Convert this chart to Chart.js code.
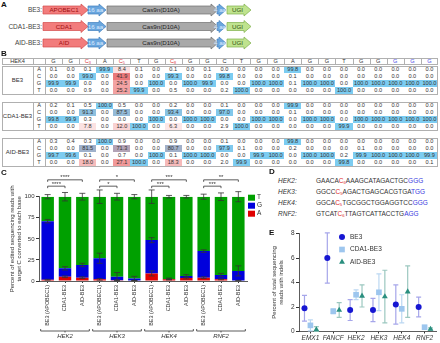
<!DOCTYPE html>
<html>
<head>
<meta charset="utf-8">
<script src="https://cdn.jsdelivr.net/npm/chart.js@4.4.1/dist/chart.umd.min.js"></script>
<style>
  body { margin: 0; width: 440px; height: 343px; position: relative; overflow: hidden; background: #fff;
         font-family: "Liberation Sans", Arial, sans-serif; color: #333; }
  .lbl { position: absolute; font-weight: bold; font-size: 8px; color: #111; }
  .c { position: absolute; font-size: 5.6px; text-align: center; white-space: nowrap; box-sizing: border-box; }
  .seq { position: absolute; font-size: 6.5px; white-space: nowrap; color: #333; }
  canvas { position: absolute; }
</style>
</head>
<body>
<svg id="constructs" width="440" height="56" style="position:absolute;left:0;top:0"></svg>
<div id="table"></div>
<div id="seqs"></div>
<canvas id="editChart" width="290" height="178" style="left:0;top:165px"></canvas>
<canvas id="indelChart" width="172" height="115" style="left:268px;top:228px"></canvas>
<div class="lbl" style="left:1px;top:0px">A</div>
<div class="lbl" style="left:1px;top:49px">B</div>
<div class="lbl" style="left:1px;top:168px">C</div>
<div class="lbl" style="left:269px;top:167px">D</div>
<div class="lbl" style="left:269px;top:228px">E</div>
<script>
// ---- panel A: constructs
const CONSTRUCTS = ['BE3:', 'CDA1-BE3:', 'AID-BE3:'];
const DEAMINASES = ['APOBEC1', 'CDA1', 'AID'];

// ---- panel B: HEK4 base calls (%)
const HEK4_BASES = ['G','G','C','A','C','T','G','C','G','G','C','T','G','G','A','G','G','T','G','G','G','G','G'];
const HEK4_SUBS = {2: '3', 4: '5', 7: '8'};
const ROW_BASES = ['A', 'C', 'G', 'T'];
const EDITORS = ['BE3', 'CDA1-BE3', 'AID-BE3'];

const BE3_A = [0.1,0.0,0.1,99.9,8.4,0.1,0.0,0.1,0.0,0.1,0.0,0.0,0.0,0.0,99.8,0.0,0.0,0.0,0.0,0.0,0.0,0.0,0.0];
const BE3_C = [0.0,0.0,99.0,0.0,41.9,0.0,0.0,99.3,0.0,0.0,99.8,0.0,0.0,0.0,0.1,0.0,0.0,0.0,0.0,0.0,0.0,0.0,0.0];
const BE3_G = [99.9,99.9,0.0,0.0,24.5,0.0,100.0,0.0,100.0,99.9,0.0,0.0,100.0,100.0,0.1,100.0,100.0,0.0,100.0,100.0,100.0,100.0,100.0];
const BE3_T = [0.0,0.0,0.9,0.0,25.2,99.9,0.0,0.5,0.0,0.0,0.2,100.0,0.0,0.0,0.0,0.0,0.0,100.0,0.0,0.0,0.0,0.0,0.0];

const CDA1_A = [0.2,0.1,0.5,100.0,0.5,0.0,0.0,0.2,0.0,0.0,0.1,0.0,0.0,0.0,99.9,0.0,0.0,0.0,0.0,0.0,0.0,0.0,0.0];
const CDA1_C = [0.0,0.0,91.3,0.0,87.5,0.0,0.0,93.4,0.0,0.0,97.0,0.0,0.0,0.0,0.1,0.0,0.0,0.0,0.0,0.0,0.0,0.0,0.0];
const CDA1_G = [99.8,99.9,0.3,0.0,0.0,0.0,100.0,0.0,100.0,100.0,0.0,0.0,100.0,100.0,0.0,100.0,100.0,0.0,100.0,100.0,100.0,100.0,100.0];
const CDA1_T = [0.0,0.0,7.8,0.0,12.0,100.0,0.0,6.3,0.0,0.0,2.9,100.0,0.0,0.0,0.0,0.0,0.0,99.9,0.0,0.0,0.0,0.0,0.0];

const AID_A = [0.3,0.4,0.3,100.0,0.9,0.0,0.0,0.9,0.0,0.0,0.1,0.0,0.0,0.0,99.8,0.0,0.0,0.0,0.0,0.0,0.0,0.0,0.0];
const AID_C = [0.0,0.0,81.5,0.0,71.3,0.0,0.0,80.7,0.0,0.0,97.9,0.1,0.0,0.0,0.2,0.0,0.0,0.0,0.1,0.0,0.0,0.0,0.0];
const AID_G = [99.7,99.6,0.1,0.0,0.7,0.0,100.0,0.1,100.0,100.0,0.0,0.0,99.9,100.0,0.0,100.0,100.0,0.2,99.9,100.0,100.0,100.0,99.9];
const AID_T = [0.0,0.0,18.0,0.0,27.1,100.0,0.0,18.3,0.0,0.0,2.0,99.9,0.0,0.0,0.0,0.0,0.0,99.8,0.0,0.0,0.0,0.0,0.1];

// ---- panel C: outcome of target C (%)
const C_SITES = ['HEK2', 'HEK3', 'HEK4', 'RNF2'];
const C_LABELS = ['BE3 (APOBEC1)', 'CDA1-BE3', 'AID-BE3', 'BE3 (APOBEC1)', 'CDA1-BE3', 'AID-BE3',
                  'BE3 (APOBEC1)', 'CDA1-BE3', 'AID-BE3', 'BE3 (APOBEC1)', 'CDA1-BE3', 'AID-BE3'];
const C_A = [1.5, 5, 4, 2, 1, 0.5, 9, 2, 3.5, 4, 2, 0.5];
const C_G = [69.5, 10, 15, 25, 4, 2.5, 39.5, 0.5, 2.5, 31.5, 5, 11.5];
const C_T = [29, 85, 81, 73, 95, 97, 51.5, 97.5, 94, 64.5, 93, 88];
const C_A_ERR = [0.5, 1, 1, 1, 0.5, 0.3, 3, 0.5, 1, 1, 0.5, 0.3];
const C_G_ERR = [2, 2, 2, 6, 5, 2.5, 3, 1, 1.5, 1.5, 2, 6];
const C_T_ERR = [2.5, 5, 4, 8, 4, 2.5, 8, 1.5, 1.5, 3, 4.5, 6];
const C_SIG = [['****', '****'], ['*', '*'], ['***', '***'], ['***', '**']];

// ---- panel D
const D_SITES = ['HEK2:', 'HEK3:', 'HEK4:', 'RNF2:'];
const D_SEQS = ['GAACACAAAGCATAGACTGCGGG', 'GGCCCAGACTGAGCACGTGATGG', 'GGCACTGCGGCTGGAGGTCCGGG', 'GTCATCTTAGTCATTACCTGAGG'];
const D_EDIT = [5, 4, 4, 5];
const D_SUB = ['6', '5', '5', '6'];

// ---- panel E: indels (%)
const E_SITES = ['EMX1', 'FANCF', 'HEK2', 'HEK3', 'HEK4', 'RNF2'];
const E_BE3 = [1.9, 6.0, 1.75, 1.75, 2.2, 2.0];
const E_BE3_SD = [1.05, 2.05, 0.85, 0.95, 1.6, 0.8];
const E_CDA1 = [0.5, 1.65, 3.0, 3.2, 1.85, 0.35];
const E_CDA1_SD = [0.45, 0.2, 0.4, 1.5, 1.15, 0.1];
const E_AID = [0.15, 1.75, 2.9, 2.85, 3.25, 0.2];
const E_AID_SD = [0.25, 0.6, 0.9, 2.15, 2.1, 0.1];

// ================= panel A
(function () {
  const svg = document.getElementById('constructs');
  let s = '';
  function arrow(x0, x1, cy, fill, stroke, text, tc) {
    const h = 7;
    s += `<polygon points="${x0},${cy-4} ${x1-h},${cy-4} ${x1-h},${cy-6} ${x1},${cy} ${x1-h},${cy+6} ${x1-h},${cy+4} ${x0},${cy+4}" fill="${fill}" stroke="${stroke}" stroke-width="0.7"/>`;
    s += `<text x="${(x0 + x1 - 3) / 2}" y="${cy + 2.2}" font-size="6.2" text-anchor="middle" fill="${tc}">${text}</text>`;
  }
  CONSTRUCTS.forEach((name, i) => {
    const cy = 10 + i * 16.5;
    s += `<text x="42" y="${cy + 2.2}" font-size="6.5" text-anchor="end" fill="#444">${name}</text>`;
    arrow(43, 88, cy, '#f27c7c', '#d24a4a', DEAMINASES[i], '#a01010');
    arrow(88, 106, cy, '#6aa6de', '#3f7fbf', '16 aa', '#dcecff');
    arrow(107, 218, cy, '#a9a9a9', '#6f6f6f', 'Cas9n(D10A)', '#222');
    arrow(217, 226, cy, '#6aa6de', '#3f7fbf', '4 aa', '#dcecff');
    arrow(227, 251, cy, '#bfe38e', '#7eaf4a', 'UGI', '#2f4f10');
  });
  svg.innerHTML = s;
})();

// ================= panel B
(function () {
  const blocks = [[BE3_A, BE3_C, BE3_G, BE3_T], [CDA1_A, CDA1_C, CDA1_G, CDA1_T], [AID_A, AID_C, AID_G, AID_T]];
  const X0 = 2, X_LBL = 33, X_DATA = 45, X1 = 438;
  const COL_W = (X1 - X_DATA) / HEK4_BASES.length;
  const ROW_H = 7.2, HDR_Y = 57.5;
  const BLOCK_Y = [65.8, 101.8, 137.8];
  const LINE = '#b0b0b0';
  let html = '';
  const div = (x, y, w, h, style, inner) =>
    html += `<div class="c" style="left:${x}px;top:${y}px;width:${w}px;height:${h}px;line-height:${h}px;${style}">${inner || ''}</div>`;
  const vline = (x, y, h) => div(x, y, 0.8, h, `background:${LINE}`);

  function cellColor(ref, base, v) {
    const blue = [124, 204, 241], red = [238, 118, 118];
    if (ref === base) {
      const t = Math.max(0, Math.min(1, (v - 40) / 60));
      const c = blue.map((b, k) => Math.round(red[k] + (b - red[k]) * t));
      return `rgb(${c})`;
    }
    if (v < 5) return 'transparent';
    const a = Math.min(1, v / 28);
    const pink = [241, 150, 150];
    const c = pink.map(p => Math.round(255 + (p - 255) * a));
    return `rgb(${c})`;
  }

  // header
  div(X0, HDR_Y, X1 - X0, ROW_H, `border:0.8px solid ${LINE}`);
  div(X0, HDR_Y, X_LBL - X0, ROW_H, '', 'HEK4');
  vline(X_LBL, HDR_Y, ROW_H);
  vline(X_DATA, HDR_Y, ROW_H);
  HEK4_BASES.forEach((b, j) => {
    const x = X_DATA + j * COL_W;
    if (j > 0) vline(x, HDR_Y, ROW_H);
    let color = '#333', inner = b;
    if (HEK4_SUBS[j]) { color = '#e03c3c'; inner = `${b}<span style="font-size:3.8px;position:relative;top:1px">${HEK4_SUBS[j]}</span>`; }
    if (j >= HEK4_BASES.length - 3) color = '#4a4ae6';
    div(x, HDR_Y, COL_W, ROW_H, `color:${color}`, inner);
  });

  blocks.forEach((rows, bi) => {
    const y0 = BLOCK_Y[bi];
    rows.forEach((vals, ri) => {
      const y = y0 + ri * ROW_H;
      div(X_LBL, y, X_DATA - X_LBL, ROW_H, '', ROW_BASES[ri]);
      vals.forEach((v, j) => {
        const bg = cellColor(HEK4_BASES[j], ROW_BASES[ri], v);
        div(X_DATA + j * COL_W, y, COL_W, ROW_H, `background:${bg}`, v.toFixed(1));
      });
    });
    const h = ROW_H * 4;
    div(X0, y0, X1 - X0, h, `border:0.8px solid ${LINE}`);
    div(X0, y0, X_LBL - X0, h, 'font-size:6px', EDITORS[bi]);
    vline(X_LBL, y0, h);
    vline(X_DATA, y0, h);
  });
  document.getElementById('table').innerHTML = html;
})();

// ================= panel D
(function () {
  let html = '';
  D_SITES.forEach((site, i) => {
    const y = 176.5 + i * 11;
    html += `<div class="seq" style="left:278px;top:${y}px;font-style:italic">${site}</div>`;
    const seq = D_SEQS[i];
    const n = seq.length;
    let s = '';
    for (let k = 0; k < n; k++) {
      if (k === D_EDIT[i]) s += `<span style="color:#e02a2a">${seq[k]}<span style="font-size:4.2px;position:relative;top:1.5px">${D_SUB[i]}</span></span>`;
      else if (k >= n - 3) s += `<span style="color:#3a3ae0">${seq[k]}</span>`;
      else s += seq[k];
    }
    html += `<div class="seq" style="left:316px;top:${y}px">${s}</div>`;
  });
  document.getElementById('seqs').innerHTML = html;
})();

// ================= charts
Chart.defaults.font.family = '"Liberation Sans", Arial, sans-serif';
Chart.defaults.font.size = 6;
Chart.defaults.color = '#333';

function drawVTitle(ctx, lines, xs, yc) {
  ctx.save();
  ctx.fillStyle = '#333';
  ctx.font = '6px "Liberation Sans", Arial, sans-serif';
  ctx.textAlign = 'center';
  ctx.textBaseline = 'middle';
  lines.forEach((t, i) => {
    ctx.save();
    ctx.translate(xs[i], yc);
    ctx.rotate(-Math.PI / 2);
    ctx.fillText(t, 0, 0);
    ctx.restore();
  });
  ctx.restore();
}

const C_COLORS = {A: '#e00000', G: '#0000dc', T: '#00a000'};

const editExtras = {
  id: 'editExtras',
  afterDatasetsDraw(chart) {
    const {ctx, scales: {x, y}, chartArea} = chart;
    ctx.save();
    ctx.strokeStyle = '#333';
    ctx.lineWidth = 0.8;
    const stacks = [C_A, C_G, C_T], errs = [C_A_ERR, C_G_ERR, C_T_ERR];
    for (let i = 0; i < C_LABELS.length; i++) {
      const px = x.getPixelForValue(i);
      let cum = 0;
      stacks.forEach((s, k) => {
        cum += s[i];
        const e = errs[k][i];
        const y1 = y.getPixelForValue(cum + e), y2 = y.getPixelForValue(Math.max(0, cum - e));
        ctx.beginPath();
        ctx.moveTo(px, y1); ctx.lineTo(px, y2);
        ctx.moveTo(px - 3, y1); ctx.lineTo(px + 3, y1);
        ctx.moveTo(px - 3, y2); ctx.lineTo(px + 3, y2);
        ctx.stroke();
      });
    }
    // significance brackets
    ctx.fillStyle = '#333';
    ctx.textAlign = 'center';
    ctx.textBaseline = 'bottom';
    ctx.font = '6px "Liberation Sans", Arial, sans-serif';
    C_SIG.forEach((pair, g) => {
      const xa = x.getPixelForValue(g * 3);
      [[g * 3 + 1, 112.5, pair[0]], [g * 3 + 2, 120, pair[1]]].forEach(([j, lvl, txt]) => {
        const xb = x.getPixelForValue(j), yy = y.getPixelForValue(lvl);
        ctx.beginPath();
        ctx.moveTo(xa, yy + 2); ctx.lineTo(xa, yy); ctx.lineTo(xb, yy); ctx.lineTo(xb, yy + 2);
        ctx.stroke();
        ctx.fillText(txt, (xa + xb) / 2, yy + 1);
      });
    });
    // site brackets under the labels
    ctx.textBaseline = 'top';
    ctx.font = 'italic 6px "Liberation Sans", Arial, sans-serif';
    const yb = 166;
    C_SITES.forEach((site, g) => {
      const xa = x.getPixelForValue(g * 3) - 7, xb = x.getPixelForValue(g * 3 + 2) + 7;
      const xm = (xa + xb) / 2;
      ctx.beginPath();
      ctx.moveTo(xa, yb - 2); ctx.lineTo(xa, yb); ctx.lineTo(xb, yb); ctx.lineTo(xb, yb - 2);
      ctx.moveTo(xm, yb); ctx.lineTo(xm, yb + 1.5);
      ctx.stroke();
      ctx.fillText(site, xm, yb + 2);
    });
    // legend
    ctx.textAlign = 'left';
    ctx.textBaseline = 'middle';
    ctx.font = '6.5px "Liberation Sans", Arial, sans-serif';
    [...chart.data.datasets].reverse().forEach((ds, k) => {
      const ly = chartArea.top + 1 + k * 8;
      ctx.fillStyle = ds.backgroundColor;
      ctx.fillRect(chartArea.right + 1, ly - 3, 7, 6);
      ctx.fillStyle = '#333';
      ctx.fillText(ds.label, chartArea.right + 10, ly);
    });
    drawVTitle(ctx, ['Percent of edited sequencing reads with', 'target C converted to each base'], [12, 19.5], (chartArea.top + chartArea.bottom) / 2);
    ctx.restore();
  }
};

new Chart(document.getElementById('editChart'), {
  type: 'bar',
  data: {
    labels: C_LABELS,
    datasets: [
      {label: 'A', data: C_A, backgroundColor: C_COLORS.A},
      {label: 'G', data: C_G, backgroundColor: C_COLORS.G},
      {label: 'T', data: C_T, backgroundColor: C_COLORS.T}
    ]
  },
  options: {
    responsive: false,
    animation: false,
    layout: {padding: {left: 0, right: 43, top: 31.7, bottom: 0}},
    datasets: {bar: {barPercentage: 0.72, categoryPercentage: 1, borderWidth: 0}},
    plugins: {legend: {display: false}, tooltip: {enabled: false}},
    scales: {
      x: {
        stacked: true,
        afterFit(s) { s.height = 62; },
        grid: {drawOnChartArea: false, offset: false, tickLength: 2, color: '#333'},
        border: {color: '#333', width: 0.8},
        ticks: {maxRotation: 90, minRotation: 90, autoSkip: false, padding: 2, font: {size: 5.4}}
      },
      y: {
        stacked: true, min: 0, max: 100,
        afterFit(s) { s.width = 39; },
        grid: {drawOnChartArea: false, tickLength: 3, color: '#333'},
        border: {color: '#333', width: 0.8},
        ticks: {stepSize: 25, padding: 1.5, font: {size: 6}}
      }
    }
  },
  plugins: [editExtras]
});

// ---------- panel E
const E_SERIES = [
  {label: 'BE3', mean: E_BE3, sd: E_BE3_SD, color: '#1616d2', err: '#a6a6ea', style: 'circle', r: 3, dx: -0.26},
  {label: 'CDA1-BE3', mean: E_CDA1, sd: E_CDA1_SD, color: '#9dc6ee', err: '#bcd8f2', style: 'rect', r: 4, dx: 0},
  {label: 'AID-BE3', mean: E_AID, sd: E_AID_SD, color: '#2a8f7f', err: '#9cc8c0', style: 'triangle', r: 3.4, dx: 0.26}
];

const indelExtras = {
  id: 'indelExtras',
  beforeDatasetsDraw(chart) {
    const {ctx, scales: {y}} = chart;
    ctx.save();
    ctx.lineWidth = 1.2;
    E_SERIES.forEach((s, d) => {
      ctx.strokeStyle = s.err;
      chart.getDatasetMeta(d).data.forEach((pt, i) => {
        const y1 = y.getPixelForValue(s.mean[i] + s.sd[i]);
        const y2 = y.getPixelForValue(Math.max(0, s.mean[i] - s.sd[i]));
        ctx.beginPath();
        ctx.moveTo(pt.x, y1); ctx.lineTo(pt.x, y2);
        ctx.moveTo(pt.x - 2.5, y1); ctx.lineTo(pt.x + 2.5, y1);
        ctx.moveTo(pt.x - 2.5, y2); ctx.lineTo(pt.x + 2.5, y2);
        ctx.stroke();
      });
    });
    ctx.restore();
  },
  afterDatasetsDraw(chart) {
    const {ctx, chartArea} = chart;
    ctx.save();
    ctx.font = '6.5px "Liberation Sans", Arial, sans-serif';
    ctx.textBaseline = 'middle';
    E_SERIES.forEach((s, k) => {
      const ly = 9 + k * 12.5, lx = 74;
      ctx.fillStyle = s.color;
      Chart.helpers.drawPoint(ctx, {pointStyle: s.style, radius: s.r, rotation: 0, borderWidth: 0}, lx, ly);
      ctx.fillStyle = '#333';
      ctx.fillText(s.label, lx + 8, ly);
    });
    drawVTitle(ctx, ['Percent of total sequencing', 'reads with indels'], [6.5, 13.5], (chartArea.top + chartArea.bottom) / 2);
    ctx.restore();
  }
};

new Chart(document.getElementById('indelChart'), {
  type: 'scatter',
  data: {
    datasets: E_SERIES.map(s => ({
      label: s.label,
      data: s.mean.map((v, i) => ({x: i + s.dx, y: v})),
      backgroundColor: s.color,
      borderWidth: 0,
      pointStyle: s.style,
      pointRadius: s.r
    }))
  },
  options: {
    responsive: false,
    animation: false,
    clip: false,
    layout: {padding: {left: 0, right: 1, top: 5.5, bottom: 0}},
    plugins: {legend: {display: false}, tooltip: {enabled: false}},
    scales: {
      x: {
        type: 'linear', min: -0.5, max: 5.5,
        afterFit(s) { s.height = 11.5; },
        afterBuildTicks(s) { s.ticks = E_SITES.map((_, i) => ({value: i})); },
        grid: {drawOnChartArea: false, tickLength: 2, color: '#333'},
        border: {color: '#333', width: 0.8},
        ticks: {callback: v => E_SITES[v], padding: 1, font: {size: 6.5, style: 'italic'}}
      },
      y: {
        min: 0, max: 8,
        afterFit(s) { s.width = 31; },
        grid: {drawOnChartArea: false, tickLength: 3, color: '#333'},
        border: {color: '#333', width: 0.8},
        ticks: {stepSize: 2, padding: 1.5, font: {size: 6.5}}
      }
    }
  },
  plugins: [indelExtras]
});
</script>
</body>
</html>
